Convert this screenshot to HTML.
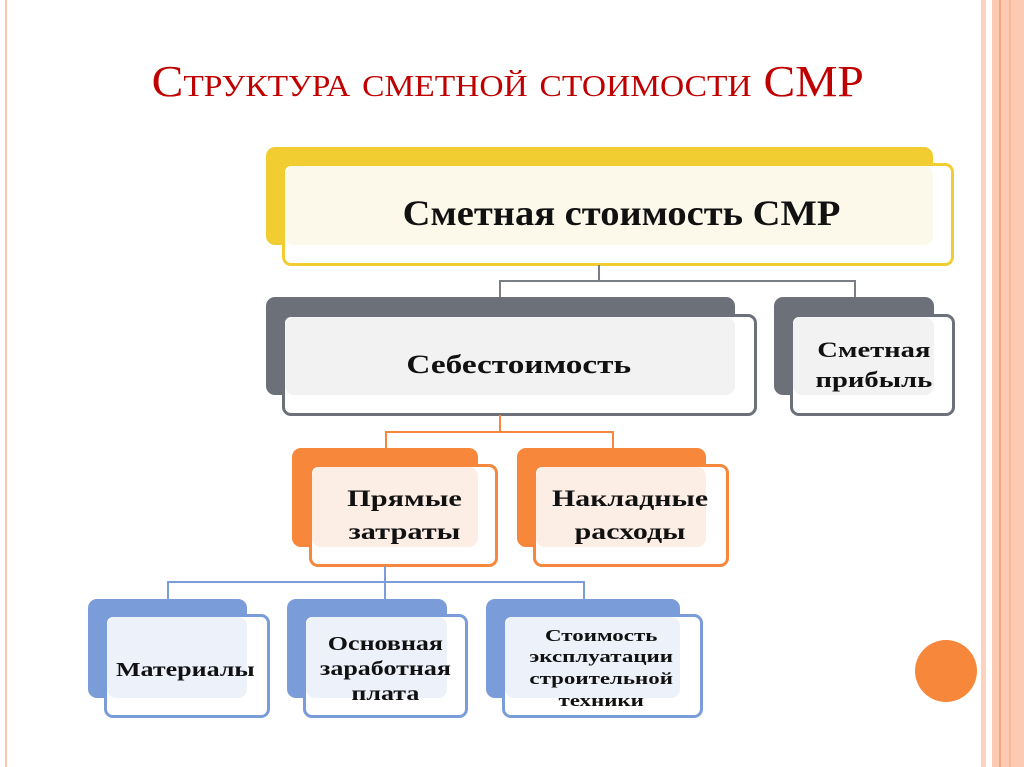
<!DOCTYPE html>
<html><head><meta charset="utf-8"><style>
body{margin:0;width:1024px;height:767px;background:#fff;position:relative;overflow:hidden;font-family:"Liberation Serif",serif;}
div{position:absolute;box-sizing:border-box;}
.b{border-radius:9px;}
.f{border-radius:9px;border:3px solid;background:#fff;}
.t{display:flex;align-items:center;justify-content:center;text-align:center;font-weight:bold;color:#111;line-height:1.25;}
.t span{display:inline-block;}
</style></head><body>
<div style="left:5px;top:0;width:2px;height:767px;background:#f8c8b0"></div>
<div style="left:981px;top:0;width:5px;height:767px;background:#fcd2bf"></div>
<div style="left:992px;top:0;width:32px;height:767px;background:#fcc9b2"></div>
<div style="left:999px;top:0;width:2px;height:767px;background:#f6a37f"></div>
<div style="left:1009px;top:0;width:2px;height:767px;background:#f9b898"></div>
<div style="left:0;top:56px;width:1016px;text-align:center;color:#c00000;font-size:44px;font-variant:small-caps;"><span style="display:inline-block;transform:scaleX(1.08)">Структура сметной стоимости СМР</span></div>

<!-- top -->
<div class="b" style="left:266px;top:147px;width:667px;height:98px;background:#f2cd32"></div>
<div class="f" style="left:282px;top:163px;width:672px;height:103px;border-color:#f2cd32"></div>
<div class="b" style="left:285px;top:166px;width:648px;height:79px;background:#fcf9ea"></div>
<div class="t" style="left:322px;top:163px;width:600px;height:100px;font-size:36px;"><span style="transform:scaleX(1.07)">Сметная стоимость СМР</span></div>

<div style="left:598px;top:265px;width:2px;height:17px;background:#7a7f86"></div>
<div style="left:499px;top:280px;width:357px;height:2px;background:#7a7f86"></div>
<div style="left:499px;top:280px;width:2px;height:18px;background:#7a7f86"></div>
<div style="left:854px;top:280px;width:2px;height:18px;background:#7a7f86"></div>

<!-- gray -->
<div class="b" style="left:266px;top:297px;width:469px;height:98px;background:#6c7079"></div>
<div class="f" style="left:282px;top:314px;width:475px;height:102px;border-color:#6c7079"></div>
<div class="b" style="left:285px;top:317px;width:450px;height:78px;background:#f2f2f3"></div>
<div class="t" style="left:369px;top:314px;width:300px;height:102px;font-size:26px;"><span style="transform:scaleX(1.28)">Себестоимость</span></div>

<div class="b" style="left:774px;top:297px;width:160px;height:98px;background:#6c7079"></div>
<div class="f" style="left:790px;top:314px;width:165px;height:102px;border-color:#6c7079"></div>
<div class="b" style="left:793px;top:317px;width:141px;height:78px;background:#f2f2f3"></div>
<div class="t" style="left:794px;top:314px;width:160px;height:102px;font-size:22px;line-height:1.35;"><span style="transform:scaleX(1.3)">Сметная<br>прибыль</span></div>

<div style="left:499px;top:415px;width:2px;height:18px;background:#f7873a"></div>
<div style="left:385px;top:431px;width:229px;height:2px;background:#f7873a"></div>
<div style="left:385px;top:431px;width:2px;height:18px;background:#f7873a"></div>
<div style="left:612px;top:431px;width:2px;height:18px;background:#f7873a"></div>

<!-- orange -->
<div class="b" style="left:292px;top:448px;width:186px;height:99px;background:#f7873a"></div>
<div class="f" style="left:309px;top:464px;width:189px;height:103px;border-color:#f7873a"></div>
<div class="b" style="left:312px;top:467px;width:166px;height:80px;background:#fdeee5"></div>
<div class="t" style="left:314px;top:464px;width:180px;height:103px;font-size:23px;line-height:1.4;"><span style="transform:scaleX(1.32)">Прямые<br>затраты</span></div>

<div class="b" style="left:517px;top:448px;width:189px;height:99px;background:#f7873a"></div>
<div class="f" style="left:533px;top:464px;width:196px;height:103px;border-color:#f7873a"></div>
<div class="b" style="left:536px;top:467px;width:170px;height:80px;background:#fdeee5"></div>
<div class="t" style="left:530px;top:464px;width:200px;height:103px;font-size:23px;line-height:1.4;"><span style="transform:scaleX(1.3)">Накладные<br>расходы</span></div>

<div style="left:384px;top:566px;width:2px;height:17px;background:#7a9cd8"></div>
<div style="left:167px;top:581px;width:418px;height:2px;background:#7a9cd8"></div>
<div style="left:167px;top:581px;width:2px;height:19px;background:#7a9cd8"></div>
<div style="left:384px;top:581px;width:2px;height:19px;background:#7a9cd8"></div>
<div style="left:583px;top:581px;width:2px;height:19px;background:#7a9cd8"></div>

<!-- blue -->
<div class="b" style="left:88px;top:599px;width:159px;height:99px;background:#7a9cd8"></div>
<div class="f" style="left:104px;top:614px;width:166px;height:104px;border-color:#7a9cd8"></div>
<div class="b" style="left:107px;top:617px;width:140px;height:81px;background:#edf1fa"></div>
<div class="t" style="left:95px;top:618px;width:180px;height:104px;font-size:20px;"><span style="transform:scaleX(1.3)">Материалы</span></div>

<div class="b" style="left:287px;top:599px;width:160px;height:99px;background:#7a9cd8"></div>
<div class="f" style="left:303px;top:614px;width:165px;height:104px;border-color:#7a9cd8"></div>
<div class="b" style="left:306px;top:617px;width:141px;height:81px;background:#edf1fa"></div>
<div class="t" style="left:295px;top:617px;width:180px;height:104px;font-size:20px;line-height:1.25;"><span style="transform:scaleX(1.3)">Основная<br>заработная<br>плата</span></div>

<div class="b" style="left:486px;top:599px;width:194px;height:99px;background:#7a9cd8"></div>
<div class="f" style="left:502px;top:614px;width:201px;height:104px;border-color:#7a9cd8"></div>
<div class="b" style="left:505px;top:617px;width:175px;height:81px;background:#edf1fa"></div>
<div class="t" style="left:501px;top:616px;width:200px;height:104px;font-size:17px;line-height:1.28;"><span style="transform:scaleX(1.35)">Стоимость<br>эксплуатации<br>строительной<br>техники</span></div>

<div style="left:915px;top:640px;width:62px;height:62px;border-radius:50%;background:#f7873a"></div>
</body></html>
